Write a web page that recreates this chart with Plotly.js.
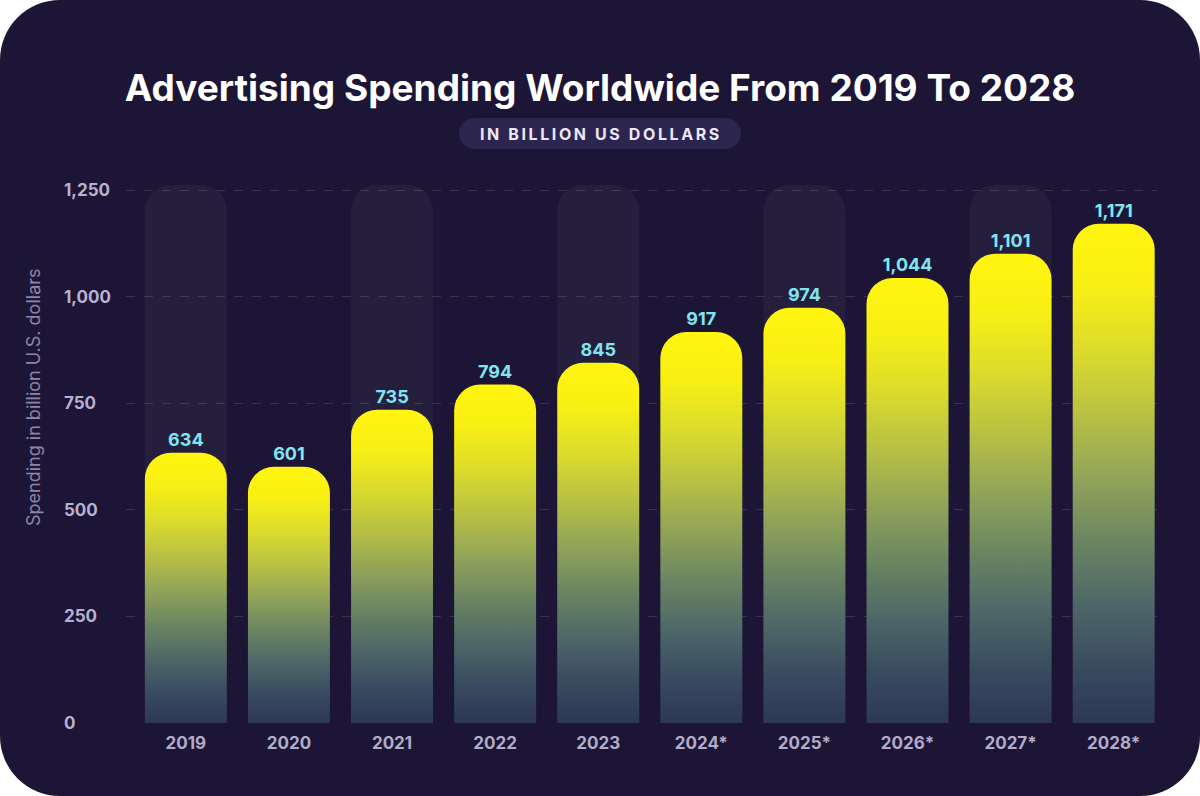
<!DOCTYPE html>
<html>
<head>
<meta charset="utf-8">
<script src="https://cdn.plot.ly/plotly-3.0.1.min.js"></script>
<style>
  html, body { margin: 0; padding: 0; background: #ffffff; }
  #chart { width: 1200px; height: 796px; border-radius: 60px; overflow: hidden; }
  .annotation-text[data-unformatted^="IN BILLION"] { letter-spacing: 2.6px; }
</style>
</head>
<body>
<div id="chart"></div>
<script>
// ---- data ----
const years = ['2019', '2020', '2021', '2022', '2023', '2024*', '2025*', '2026*', '2027*', '2028*'];
const spending = [634, 601, 735, 794, 845, 917, 974, 1044, 1101, 1171];
const highlightYears = ['2019', '2021', '2023', '2025*', '2027*'];
const yTickVals = [0, 250, 500, 750, 1000, 1250];
const yMax = 1262;

const titleText = 'Advertising Spending Worldwide From 2019 To 2028';
const subtitleText = 'IN BILLION US DOLLARS';
const yTitleText = 'Spending in billion U.S. dollars';

const BG = '#1c1535';
const FONT = 'Inter, "Open Sans", sans-serif';
const xRange = [-0.58, 9.42];
const xDomain = [0.0602, 1];

const traces = [
  {
    type: 'bar',
    x: highlightYears,
    y: highlightYears.map(() => yMax),
    xaxis: 'x',
    yaxis: 'y',
    marker: { color: 'rgba(255,255,255,0.045)', cornerradius: 26 },
    hoverinfo: 'skip',
    showlegend: false
  },
  {
    type: 'bar',
    x: years,
    y: spending,
    xaxis: 'x2',
    yaxis: 'y',
    marker: { color: '#d8d830', cornerradius: 26 },
    texttemplate: '%{y:,}',
    textposition: 'outside',
    cliponaxis: false,
    textfont: { family: FONT, size: 18, weight: 700, color: '#7fe6f0' },
    showlegend: false
  }
];

const xCommon = {
  type: 'category',
  categoryorder: 'array',
  categoryarray: years,
  domain: xDomain,
  range: xRange,
  showgrid: false,
  zeroline: false,
  showline: false,
  ticks: ''
};

const layout = {
  width: 1200,
  height: 796,
  paper_bgcolor: BG,
  plot_bgcolor: BG,
  margin: { l: 60, r: 43, t: 185, b: 73 },
  barmode: 'overlay',
  bargap: 0.205,
  showlegend: false,
  title: {
    text: titleText,
    x: 0.5, xref: 'container', xanchor: 'center',
    y: 1 - 88 / 796, yref: 'container', yanchor: 'middle',
    font: { family: FONT, size: 37, weight: 700, color: '#ffffff' }
  },
  xaxis: Object.assign({}, xCommon, {
    ticklabelstandoff: 8,
    tickfont: { family: FONT, size: 17, weight: 700, color: '#b3acc9' }
  }),
  xaxis2: Object.assign({}, xCommon, {
    overlaying: 'x',
    anchor: 'y',
    showticklabels: false
  }),
  yaxis: {
    anchor: 'free',
    position: 0,
    side: 'left',
    range: [0, yMax],
    tickvals: yTickVals,
    tickformat: ',',
    ticklabelposition: 'inside',
    ticklabeloverflow: 'allow',
    ticks: '',
    layer: 'above traces',
    showline: false,
    zeroline: false,
    showgrid: true,
    gridcolor: 'rgba(255,255,255,0.13)',
    griddash: 'dash',
    gridwidth: 1,
    tickfont: { family: FONT, size: 17, weight: 700, color: '#b8b1cf' }
  },
  shapes: [
    {
      type: 'path',
      xref: 'paper', yref: 'paper',
      xsizemode: 'pixel', ysizemode: 'pixel',
      xanchor: (600 - 60) / 1097, yanchor: (723 - 133.5) / 538,
      path: 'M -125.5 -15.5 L 125.5 -15.5 C 134.06 -15.5 141 -8.56 141 0 C 141 8.56 134.06 15.5 125.5 15.5 L -125.5 15.5 C -134.06 15.5 -141 8.56 -141 0 C -141 -8.56 -134.06 -15.5 -125.5 -15.5 Z',
      fillcolor: '#2c2550',
      line: { width: 0 },
      layer: 'below'
    }
  ],
  annotations: [
    {
      text: subtitleText,
      xref: 'paper', yref: 'paper',
      x: (601 - 60) / 1097, y: (723 - 133.5) / 538,
      xanchor: 'center', yanchor: 'middle',
      showarrow: false,
      font: { family: FONT, size: 16, weight: 700, color: '#ece8f7' }
    },
    {
      text: yTitleText,
      xref: 'paper', yref: 'paper',
      x: (33 - 60) / 1097, y: (723 - 397) / 538,
      xanchor: 'center', yanchor: 'middle',
      textangle: -90,
      showarrow: false,
      font: { family: FONT, size: 18, color: '#8c86a8' }
    }
  ]
};

const gd = document.getElementById('chart');
Plotly.newPlot(gd, traces, layout, { displayModeBar: false, staticPlot: true }).then(() => {
  const svg = gd.querySelector('svg.main-svg');
  const defs = svg.querySelector('defs');
  const ns = 'http://www.w3.org/2000/svg';
  const grad = document.createElementNS(ns, 'linearGradient');
  grad.setAttribute('id', 'barGrad');
  grad.setAttribute('x1', '0'); grad.setAttribute('y1', '0');
  grad.setAttribute('x2', '0'); grad.setAttribute('y2', '1');
  const stops = [
    [0, '#fff510'], [0.12, '#f8f014'], [0.25, '#dcdc2c'], [0.4, '#b3bd46'],
    [0.52, '#8ea15a'], [0.64, '#6a8462'], [0.76, '#4e6868'], [0.88, '#3a4c60'], [1, '#2d3756']
  ];
  stops.forEach(([o, c]) => {
    const s = document.createElementNS(ns, 'stop');
    s.setAttribute('offset', o);
    s.setAttribute('stop-color', c);
    grad.appendChild(s);
  });
  defs.appendChild(grad);
  const barTraces = gd.querySelectorAll('.barlayer .trace');
  const dataTrace = barTraces[barTraces.length - 1];
  dataTrace.querySelectorAll('.point path').forEach(p => {
    p.style.fill = 'url(#barGrad)';
    p.style.fillOpacity = 1;
  });
});
</script>
</body>
</html>
